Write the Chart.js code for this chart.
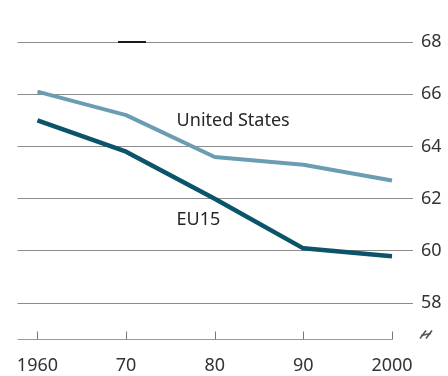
<!DOCTYPE html>
<html>
<head>
<meta charset="utf-8">
<script src="https://cdn.jsdelivr.net/npm/chart.js@4/dist/chart.umd.min.js"></script>
<style>
  html, body { margin: 0; padding: 0; background: #ffffff; }
  #wrap { width: 448px; height: 376px; position: relative; }
</style>
</head>
<body>
<div id="wrap"><canvas id="chart" width="448" height="376"></canvas></div>
<script>
// Employment rate, % of working-age population
const years = [1960, 1970, 1980, 1990, 2000];
const xTickLabels = ['1960', '70', '80', '90', '2000'];
const yTicks = [58, 60, 62, 64, 66, 68];
const usRate = [66.1, 65.2, 63.6, 63.3, 62.7];
const eu15Rate = [65.0, 63.8, 62.0, 60.1, 59.8];
const seriesNames = ['United States', 'EU15'];

const FONT = '"Noto Sans", "Open Sans", sans-serif';

// Bottom axis with upward ticks, the axis-break mark and the in-plot series names
const decorations = {
  id: 'decorations',
  afterDatasetsDraw(chart) {
    const { ctx, scales: { x, y }, chartArea } = chart;
    ctx.save();

    // short dark rule on the top gridline
    ctx.strokeStyle = '#1a1a1a';
    ctx.lineWidth = 2;
    ctx.beginPath();
    ctx.moveTo(118, y.getPixelForValue(68));
    ctx.lineTo(146, y.getPixelForValue(68));
    ctx.stroke();

    // bottom axis line, ending at the last year
    const yb = Math.round(chartArea.bottom) + 0.5;
    ctx.strokeStyle = '#9a9a9a';
    ctx.lineWidth = 1;
    ctx.beginPath();
    ctx.moveTo(chartArea.left, yb);
    ctx.lineTo(x.getPixelForValue(years[years.length - 1]) + 0.5, yb);
    ctx.stroke();

    // tick marks pointing up
    ctx.strokeStyle = '#777777';
    years.forEach(v => {
      const px = Math.round(x.getPixelForValue(v)) + 0.5;
      ctx.beginPath();
      ctx.moveTo(px, yb);
      ctx.lineTo(px, yb - 8);
      ctx.stroke();
    });

    // axis break mark
    ctx.strokeStyle = '#555555';
    ctx.lineWidth = 1.6;
    const bx = chartArea.right + 13, by = yb - 5;
    [-3, 3].forEach(dx => {
      ctx.beginPath();
      ctx.moveTo(bx + dx - 3, by + 4);
      ctx.lineTo(bx + dx + 3, by - 4);
      ctx.stroke();
    });
    ctx.beginPath();
    ctx.moveTo(bx - 5, by + 1);
    ctx.lineTo(bx + 5, by - 1);
    ctx.stroke();

    // series names
    ctx.fillStyle = '#262626';
    ctx.font = '18px ' + FONT;
    ctx.textAlign = 'left';
    ctx.textBaseline = 'middle';
    ctx.fillText(seriesNames[0], x.getPixelForValue(1975.7), y.getPixelForValue(64.98));
    ctx.fillText(seriesNames[1], x.getPixelForValue(1975.7), y.getPixelForValue(61.19));

    ctx.restore();
  }
};

new Chart(document.getElementById('chart'), {
  type: 'line',
  data: {
    datasets: [
      {
        label: seriesNames[0],
        data: years.map((yr, i) => ({ x: yr, y: usRate[i] })),
        borderColor: '#6a9db1',
        borderWidth: 4,
        borderCapStyle: 'butt',
        borderJoinStyle: 'round',
        pointRadius: 0,
        tension: 0
      },
      {
        label: seriesNames[1],
        data: years.map((yr, i) => ({ x: yr, y: eu15Rate[i] })),
        borderColor: '#0b5469',
        borderWidth: 4.5,
        borderCapStyle: 'butt',
        borderJoinStyle: 'round',
        pointRadius: 0,
        tension: 0
      }
    ]
  },
  options: {
    responsive: false,
    animation: false,
    devicePixelRatio: 1,
    layout: { padding: { left: 17, top: 42, right: 7, bottom: 0 } },
    plugins: {
      legend: { display: false },
      tooltip: { enabled: false },
      title: { display: false }
    },
    scales: {
      x: {
        type: 'linear',
        min: 1957.75,
        max: 2002.37,
        afterBuildTicks: axis => { axis.ticks = years.map(v => ({ value: v })); },
        afterFit: axis => { axis.height = 37; },
        grid: { display: false, drawTicks: false },
        border: { display: false },
        ticks: {
          autoSkip: false,
          maxRotation: 0,
          padding: 16,
          color: '#333333',
          font: { family: FONT, size: 18 },
          callback: (v) => xTickLabels[years.indexOf(v)]
        }
      },
      y: {
        position: 'right',
        min: 56.63,
        max: 68,
        afterBuildTicks: axis => { axis.ticks = yTicks.map(v => ({ value: v })); },
        afterFit: axis => { axis.width = 28; },
        grid: { color: '#8c8c8c', lineWidth: 1, drawTicks: false },
        border: { display: false },
        ticks: {
          padding: 8,
          color: '#333333',
          font: { family: FONT, size: 18 },
          callback: v => String(v)
        }
      }
    }
  },
  plugins: [decorations]
});
</script>
</body>
</html>
